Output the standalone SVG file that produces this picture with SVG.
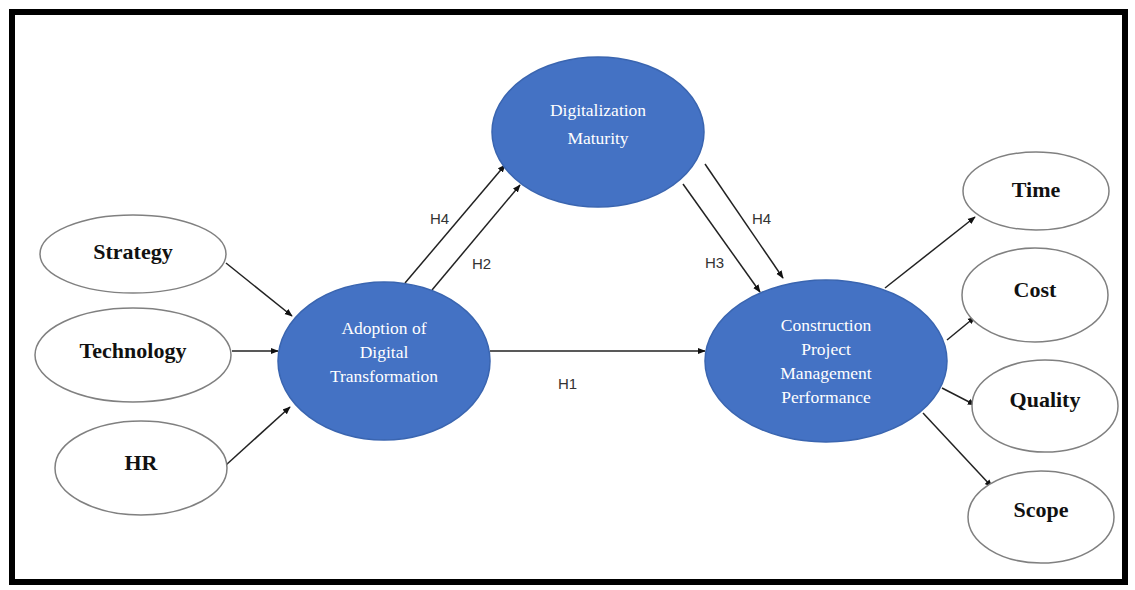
<svg xmlns="http://www.w3.org/2000/svg" width="1135" height="590" viewBox="0 0 1135 590">
  <defs>
    <marker id="arrow" viewBox="0 0 10 10" refX="9" refY="5" markerWidth="8" markerHeight="8" orient="auto" markerUnits="userSpaceOnUse">
      <path d="M0,1 L10,5 L0,9 z" fill="#111"/>
    </marker>
    <style>
      .frame { fill: #fff; stroke: #000; stroke-width: 6; }
      .latent { fill: #4472C4; stroke: #3A65B0; stroke-width: 1.5; }
      .indicator { fill: #fff; stroke: #808080; stroke-width: 1.5; }
      .ltext { font-family: "Liberation Serif", "Times New Roman", serif; font-size: 17.5px; fill: #fff; text-anchor: middle; }
      .itext { font-family: "Liberation Serif", "Times New Roman", serif; font-size: 22px; font-weight: bold; fill: #111; text-anchor: middle; }
      .hlabel { font-family: "Liberation Sans", Arial, sans-serif; font-size: 15px; fill: #333; }
      .conn line { stroke: #222; stroke-width: 1.5; marker-end: url(#arrow); }
    </style>
  </defs>

  <!-- outer frame -->
  <rect class="frame" x="12" y="12" width="1113" height="570"/>

  <!-- connectors -->
  <g id="connectors" class="conn">
    <line x1="226" y1="263" x2="292" y2="316"/>
    <line x1="232" y1="351" x2="278" y2="351"/>
    <line x1="226" y1="465" x2="290" y2="407"/>
    <line x1="405" y1="283" x2="505" y2="165"/>
    <line x1="432" y1="290" x2="520" y2="185"/>
    <line x1="683" y1="184" x2="760" y2="292"/>
    <line x1="705" y1="164" x2="783" y2="278"/>
    <line x1="490" y1="351" x2="705" y2="351"/>
    <line x1="885" y1="288" x2="975" y2="217"/>
    <line x1="947" y1="340" x2="975" y2="317"/>
    <line x1="942" y1="388" x2="975" y2="405"/>
    <line x1="923" y1="413" x2="992" y2="487"/>
  </g>

  <!-- hypothesis labels -->
  <g id="labels">
    <text class="hlabel" x="430" y="224">H4</text>
    <text class="hlabel" x="472" y="269">H2</text>
    <text class="hlabel" x="705" y="268">H3</text>
    <text class="hlabel" x="752" y="224">H4</text>
    <text class="hlabel" x="558" y="389">H1</text>
  </g>

  <g id="digitalization-maturity">
    <ellipse class="latent" cx="598" cy="132" rx="106" ry="75"/>
    <text class="ltext" x="598" y="116">Digitalization</text>
    <text class="ltext" x="598" y="144">Maturity</text>
  </g>

  <g id="adoption">
    <ellipse class="latent" cx="384" cy="361" rx="106" ry="79"/>
    <text class="ltext" x="384" y="334">Adoption of</text>
    <text class="ltext" x="384" y="358">Digital</text>
    <text class="ltext" x="384" y="382">Transformation</text>
  </g>

  <g id="performance">
    <ellipse class="latent" cx="826" cy="361" rx="121" ry="81"/>
    <text class="ltext" x="826" y="331">Construction</text>
    <text class="ltext" x="826" y="355">Project</text>
    <text class="ltext" x="826" y="379">Management</text>
    <text class="ltext" x="826" y="403">Performance</text>
  </g>

  <g id="strategy">
    <ellipse class="indicator" cx="133" cy="254" rx="93" ry="39"/>
    <text class="itext" x="133" y="259">Strategy</text>
  </g>

  <g id="technology">
    <ellipse class="indicator" cx="133" cy="355" rx="98" ry="47"/>
    <text class="itext" x="133" y="358">Technology</text>
  </g>

  <g id="hr">
    <ellipse class="indicator" cx="141" cy="468" rx="86" ry="47"/>
    <text class="itext" x="141" y="470">HR</text>
  </g>

  <g id="time">
    <ellipse class="indicator" cx="1036" cy="191" rx="73" ry="39"/>
    <text class="itext" x="1036" y="197">Time</text>
  </g>

  <g id="cost">
    <ellipse class="indicator" cx="1035" cy="295" rx="73" ry="47"/>
    <text class="itext" x="1035" y="297">Cost</text>
  </g>

  <g id="quality">
    <ellipse class="indicator" cx="1045" cy="406" rx="73" ry="46"/>
    <text class="itext" x="1045" y="407">Quality</text>
  </g>

  <g id="scope">
    <ellipse class="indicator" cx="1041" cy="517" rx="73" ry="46"/>
    <text class="itext" x="1041" y="517">Scope</text>
  </g>
</svg>
